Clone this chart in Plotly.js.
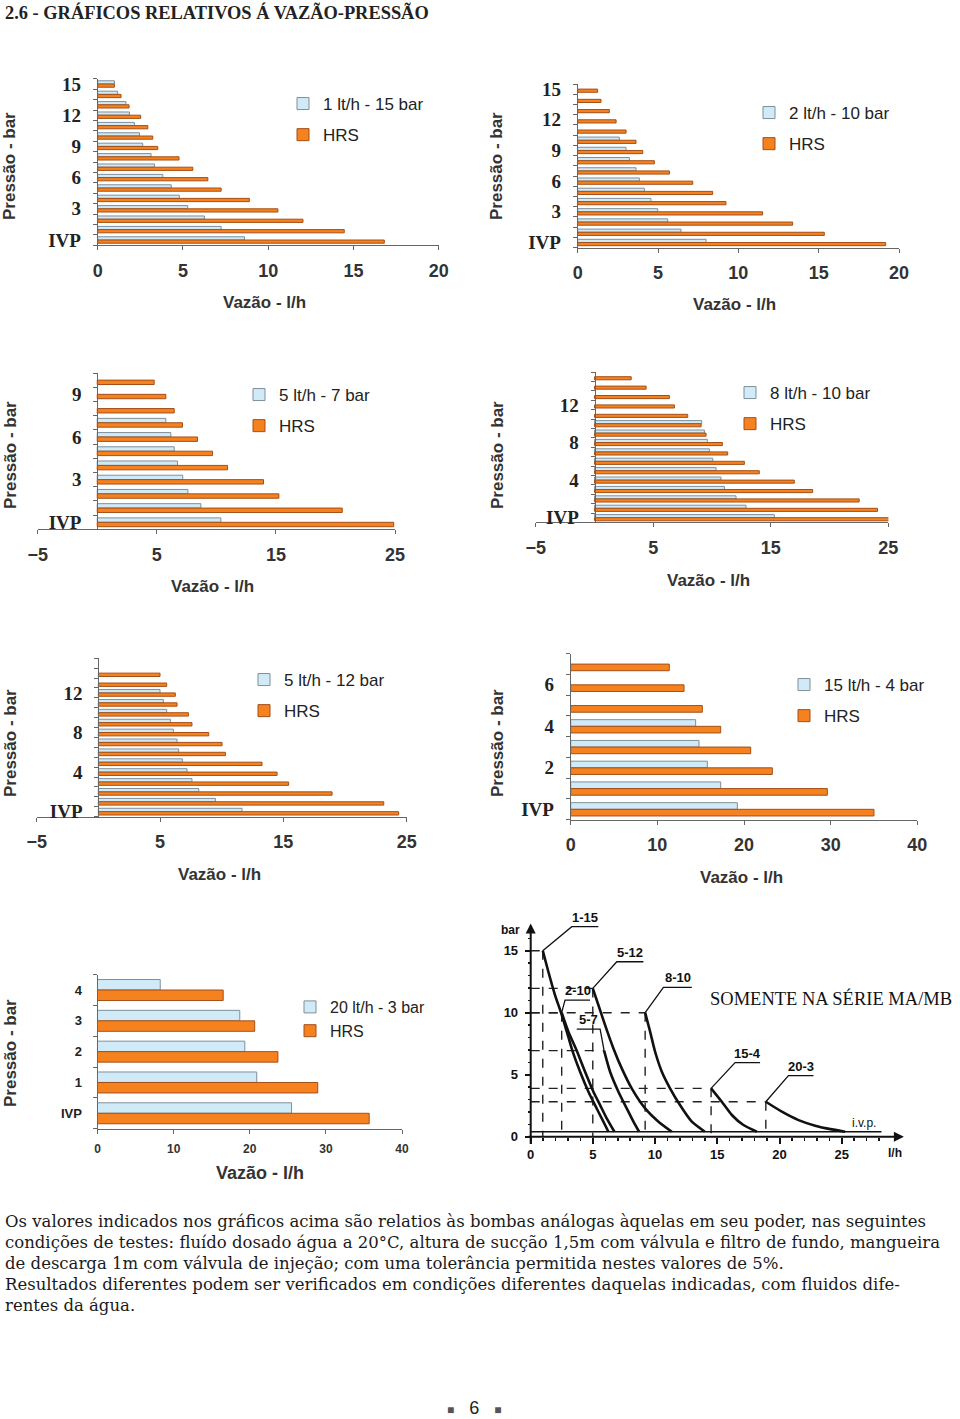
<!DOCTYPE html>
<html><head><meta charset="utf-8">
<script src="https://cdn.plot.ly/plotly-3.0.1.min.js"></script>
<style>html,body{margin:0;padding:0;background:#fff}#chart{width:960px;height:1419px}</style>
</head><body><div id="chart"></div>
<script>
const W = 960, H = 1419;

// ---------------- DATA ----------------
// Panel 1
const p1Name = '1 lt/h - 15 bar';
const p1Pressure = [0,1,2,3,4,5,6,7,8,9,10,11,12,13,14,15];
const p1Flow = [8.61,7.24,6.26,5.28,4.79,4.31,3.82,3.33,3.13,2.64,2.45,2.15,1.86,1.66,1.17,0.98];
const p1Hrs  = [16.81,14.46,12.04,10.57,8.90,7.24,6.46,5.58,4.77,3.52,3.23,2.94,2.52,1.84,1.37,0.98];
const p1TickVals = [0,3,6,9,12,15];
const p1TickText = ['IVP','3','6','9','12','15'];
const p1XTicks = [0,5,10,15,20];

// Panel 2
const p2Name = '2 lt/h - 10 bar';
const p2Pressure = [0,1,2,3,4,5,6,7,8,9,10,11,12,13,14,15];
const p2Flow = [7.99,6.43,5.60,4.98,4.56,4.15,3.84,3.63,3.22,3.01,2.59,null,null,null,null,null];
const p2Hrs  = [19.17,15.35,13.38,11.51,9.23,8.40,7.16,5.71,4.77,4.05,3.63,3.01,2.39,1.97,1.45,1.24];
const p2TickVals = [0,3,6,9,12,15];
const p2TickText = ['IVP','3','6','9','12','15'];
const p2XTicks = [0,5,10,15,20];

// Panel 3
const p3Name = '5 lt/h - 7 bar';
const p3Pressure = [0,1,2,3,4,5,6,7,8,9,10];
const p3Flow = [10.38,8.70,7.61,7.18,6.74,6.46,6.18,5.76,null,null,null];
const p3Hrs  = [24.89,20.57,15.25,13.96,10.94,9.68,8.42,7.16,6.46,5.76,4.78];
const p3TickVals = [0,3,6,9];
const p3TickText = ['IVP','3','6','9'];
const p3XTicks = [-5,5,15,25];

// Panel 4
const p4Name = '8 lt/h - 10 bar';
const p4Pressure = [0,1,2,3,4,5,6,7,8,9,10,11,12,13,14,15];
const p4Flow = [15.30,12.89,12.04,11.05,10.76,10.34,10.06,9.77,9.60,9.35,9.12,null,null,null,null,null];
const p4Hrs  = [25.07,24.08,22.52,18.56,17.00,14.02,12.75,11.33,10.88,9.49,9.07,7.93,6.80,6.37,4.39,3.12];
const p4TickVals = [0,4,8,12];
const p4TickText = ['IVP','4','8','12'];
const p4XTicks = [-5,5,15,25];

// Panel 5
const p5Name = '5 lt/h - 12 bar';
const p5Pressure = [0,1,2,3,4,5,6,7,8,9,10,11,12,13,14,15];
const p5Flow = [11.65,9.49,8.14,7.59,7.19,6.81,6.51,6.38,6.08,5.84,5.54,5.27,5.00,null,null,null];
const p5Hrs  = [24.35,23.14,18.95,15.43,14.49,13.27,10.30,10.03,8.95,7.59,7.30,6.38,6.24,5.54,5.00,null];
const p5TickVals = [0,4,8,12];
const p5TickText = ['IVP','4','8','12'];
const p5XTicks = [-5,5,15,25];

// Panel 6
const p6Name = '15 lt/h - 4 bar';
const p6Pressure = [0,1,2,3,4,5,6,7];
const p6Flow = [19.23,17.31,15.77,14.81,14.42,null,null,null];
const p6Hrs  = [35.00,29.62,23.27,20.77,17.31,15.19,13.08,11.38];
const p6TickVals = [0,2,4,6];
const p6TickText = ['IVP','2','4','6'];
const p6XTicks = [0,10,20,30,40];

// Panel 7
const p7Name = '20 lt/h - 3 bar';
const p7Pressure = [0,1,2,3,4];
const p7Flow = [25.49,20.92,19.35,18.69,8.24];
const p7Hrs  = [35.69,28.93,23.70,20.65,16.51];
const p7TickVals = [0,1,2,3,4];
const p7TickText = ['IVP','1','2','3','4'];
const p7XTicks = [0,10,20,30,40];

// Curve chart (l/h vs bar)
const c115X = [0.97,1.42,1.96,2.44,2.90,3.35,3.97,4.64,5.17,5.71,6.25];
const c115Y = [15,13.3,11.4,10.0,8.47,6.94,5.24,3.63,2.55,1.48,0.4];
const c210X = [2.49,3.03,3.70,4.37,5.04,5.58,6.11,6.73];
const c210Y = [10.0,8.47,6.94,5.24,3.63,2.55,1.48,0.4];
const c57X  = [5.90,6.38,7.05,7.72,8.26,8.71];
const c57Y  = [6.94,5.24,3.63,2.28,1.21,0.4];
const c512X = [4.99,5.44,5.98,6.65,7.32,8.12,9.20,10.27,11.34];
const c512Y = [11.96,10.62,9.0,7.12,5.51,3.9,2.28,1.21,0.4];
const c810X = [9.2,9.6,10.0,10.54,11.2,12.0,12.95,14.0];
const c810Y = [10.0,8.47,6.85,5.24,3.9,2.55,1.21,0.4];
const c154X = [14.5,15.36,16.17,17.1,18.18];
const c154Y = [3.9,2.82,1.75,0.94,0.4];
const c203X = [18.9,20.19,21.53,22.87,24.2,25.28];
const c203Y = [2.82,2.02,1.34,0.89,0.59,0.4];
const ivpX = [0,28.2];
const ivpY = [0.4,0.4];
const curveXTicks = [0,5,10,15,20,25];
const curveYTicks = [0,5,10,15];

// ---------------- STYLE / LAYOUT ----------------
const ORANGE = '#f5821f', ORANGE_EDGE = '#a44f18', BLUE = '#d1eaf8', BLUE_EDGE = '#7f8f9a';
const AX = '#666';

// plot boxes in px: [left, right, top, bottom]
const panels = [
  {name:p1Name, p:p1Pressure, f:p1Flow, h:p1Hrs, tv:p1TickVals, tt:p1TickText, xt:p1XTicks, xr:[0,20], box:[97.7,438.7,78.8,245.2], w:0.31, leg:[283,86], yt:[10,166], xtitle:[264,302]},
  {name:p2Name, p:p2Pressure, f:p2Flow, h:p2Hrs, tv:p2TickVals, tt:p2TickText, xt:p2XTicks, xr:[0,20], box:[577.7,899,84,247.6], w:0.31, leg:[749,95], yt:[497,166], xtitle:[734,304]},
  {name:p3Name, p:p3Pressure, f:p3Flow, h:p3Hrs, tv:p3TickVals, tt:p3TickText, xt:p3XTicks, xr:[-5,25], box:[37.7,395,373,529.4], w:0.31, leg:[239,377], yt:[10,455], xtitle:[212,586]},
  {name:p4Name, p:p4Pressure, f:p4Flow, h:p4Hrs, tv:p4TickVals, tt:p4TickText, xt:p4XTicks, xr:[-5,25], box:[535.8,888.3,372,522.4], w:0.33, leg:[730,375], yt:[497,455], xtitle:[708,580]},
  {name:p5Name, p:p5Pressure, f:p5Flow, h:p5Hrs, tv:p5TickVals, tt:p5TickText, xt:p5XTicks, xr:[-5,25], box:[36.7,406.7,658.3,816.6], w:0.34, leg:[244,662], yt:[10,743], xtitle:[219,874]},
  {name:p6Name, p:p6Pressure, f:p6Flow, h:p6Hrs, tv:p6TickVals, tt:p6TickText, xt:p6XTicks, xr:[0,40], box:[570.7,917.3,653.7,819.7], w:0.32, leg:[784,667], yt:[497,743], xtitle:[741,877]},
  {name:p7Name, p:p7Pressure, f:p7Flow, h:p7Hrs, tv:p7TickVals, tt:p7TickText, xt:p7XTicks, xr:[0,40], box:[97.5,402,974.6,1128.7], w:0.34, leg:[290,990], yt:[10,1053], xtitle:[260,1173], small:true}
];

const traces = [];
const layout = {
  width: W, height: H, margin:{l:0,r:0,t:0,b:0},
  paper_bgcolor:'#fff', plot_bgcolor:'rgba(0,0,0,0)',
  barmode:'overlay', showlegend:true, annotations:[], shapes:[],
  font:{family:'Liberation Sans', color:'#222'}
};

panels.forEach((P, i) => {
  const k = i + 1;
  const xs = k === 1 ? 'x' : 'x' + k, ys = k === 1 ? 'y' : 'y' + k;
  const lg = k === 1 ? 'legend' : 'legend' + k;
  const [l, r, t, b] = P.box;
  const xd = [l / W, r / W], yd = [1 - b / H, 1 - t / H];
  traces.push({type:'bar', orientation:'h', x:P.f, y:P.p, name:P.name, xaxis:xs, yaxis:ys,
    width:P.w, offset:0, marker:{color:BLUE, line:{color:BLUE_EDGE, width:1}},
    legend:lg, legendgroup:'b'+k, hoverinfo:'skip'});
  traces.push({type:'bar', orientation:'h', x:P.h, y:P.p, name:'HRS', xaxis:xs, yaxis:ys,
    width:P.w, offset:-P.w, marker:{color:ORANGE, line:{color:ORANGE_EDGE, width:1}},
    legend:lg, legendgroup:'h'+k, hoverinfo:'skip'});
  const n = P.p.length;
  const tickFontX = P.small ? {family:'Liberation Sans', size:12, weight:'bold', color:'#333'}
                            : {family:'Liberation Sans', size:18, weight:'bold', color:'#333'};
  const tickFontY = P.small ? {family:'Liberation Sans', size:13, weight:'bold', color:'#222'}
                            : {family:'Liberation Serif', size:19, weight:'bold', color:'#222'};
  layout[k === 1 ? 'xaxis' : 'xaxis' + k] = {
    domain:xd, range:P.xr, anchor:ys, showline:true, linecolor:AX, linewidth:1,
    ticks:'outside', ticklen:4, tickcolor:AX, tickmode:'array', tickvals:P.xt,
    tickfont:tickFontX, ticklabelstandoff:5, showgrid:false, zeroline:false, fixedrange:true
  };
  const ya = {
    domain:yd, range:[-0.5, n - 0.5], showline:true, linecolor:AX, linewidth:1,
    ticks:'', tickmode:'array', tickvals:P.tv, ticktext:P.tt, tickfont:tickFontY,
    ticklabelstandoff: 12,
    minor:{tick0:0.5, dtick:1, ticks:'outside', ticklen:4, tickcolor:AX},
    showgrid:false, zeroline:false, fixedrange:true
  };
  if (P.xr[0] < 0) {
    ya.anchor = 'free';
    ya.position = xd[0] + (0 - P.xr[0]) / (P.xr[1] - P.xr[0]) * (xd[1] - xd[0]);
  } else {
    ya.anchor = xs;
  }
  layout[k === 1 ? 'yaxis' : 'yaxis' + k] = ya;
  layout[lg] = {
    x:P.leg[0] / W, y:1 - P.leg[1] / H, xanchor:'left', yanchor:'top',
    bgcolor:'rgba(0,0,0,0)', borderwidth:0,
    font:{family:'Liberation Sans', size:P.small ? 16 : 17, color:'#222'},
    traceorder:'grouped', tracegroupgap:P.small ? 0 : 6
  };
  // axis titles
  layout.annotations.push({xref:'paper', yref:'paper', x:P.yt[0] / W, y:1 - P.yt[1] / H,
    text:'Pressão - bar', textangle:-90, showarrow:false, xanchor:'center', yanchor:'middle',
    font:{family:'Liberation Sans', size:17, weight:'bold', color:'#333'}});
  layout.annotations.push({xref:'paper', yref:'paper', x:P.xtitle[0] / W, y:1 - P.xtitle[1] / H,
    text:'Vazão - l/h', showarrow:false, xanchor:'center', yanchor:'middle',
    font:{family:'Liberation Sans', size:P.small ? 18 : 17, weight:'bold', color:'#333'}});
});

// ---------------- CURVE CHART ----------------
const cxr = [-2.5, 30.5], cyr = [-1.6, 18.2];
const cBox = [530.7 + cxr[0] * 12.44, 530.7 + cxr[1] * 12.44, 1136.7 - cyr[1] * 12.4, 1136.7 - cyr[0] * 12.4];
const cxd = [cBox[0] / W, cBox[1] / W], cyd = [1 - cBox[3] / H, 1 - cBox[2] / H];
const zeroX = cxd[0] + (0 - cxr[0]) / (cxr[1] - cxr[0]) * (cxd[1] - cxd[0]);
const zeroY = cyd[0] + (0 - cyr[0]) / (cyr[1] - cyr[0]) * (cyd[1] - cyd[0]);
const tickFontC = {family:'Liberation Sans', size:13, weight:'bold', color:'#111'};
const minorX = []; for (let v = 1; v <= 28; v++) if (v % 5) minorX.push(v);
const minorY = []; for (let v = 1; v <= 16; v++) if (v % 5) minorY.push(v);
layout.xaxis8 = {domain:cxd, range:cxr, anchor:'free', position:zeroY, showline:false, zeroline:false, showgrid:false,
  ticks:'outside', ticklen:6, tickwidth:2, tickcolor:'#111', tickmode:'array', tickvals:curveXTicks,
  minor:{tickmode:'array', tickvals:minorX, ticks:'outside', ticklen:3, tickwidth:1.5, tickcolor:'#111'},
  tickfont:tickFontC, ticklabelstandoff:0, fixedrange:true};
layout.yaxis8 = {domain:cyd, range:cyr, anchor:'free', position:zeroX, showline:false, zeroline:false, showgrid:false,
  ticks:'outside', ticklen:6, tickwidth:2, tickcolor:'#111', tickmode:'array', tickvals:curveYTicks,
  minor:{tickmode:'array', tickvals:minorY, ticks:'outside', ticklen:3, tickwidth:1.5, tickcolor:'#111'},
  tickfont:tickFontC, ticklabelstandoff:4, fixedrange:true};

const curves = [
  {name:'1-15', x:c115X, y:c115Y, u:[3.30,5.44,16.94], side:'l', vert:true},
  {name:'2-10', x:c210X, y:c210Y, u:[2.76,4.77,11.02], side:'l', vert:true},
  {name:'5-7',  x:c57X,  y:c57Y,  u:[3.70,5.58,8.68],  side:'r', vert:false},
  {name:'5-12', x:c512X, y:c512Y, u:[6.92,9.06,14.11], side:'l', vert:true},
  {name:'8-10', x:c810X, y:c810Y, u:[10.67,12.95,12.04], side:'l', vert:true},
  {name:'15-4', x:c154X, y:c154Y, u:[16.43,18.44,5.97], side:'l', vert:true},
  {name:'20-3', x:c203X, y:c203Y, u:[20.72,22.73,4.92], side:'l', vert:true}
];
const dashStyle = {color:'#222', width:1.4, dash:'dash'};
curves.forEach(c => {
  traces.push({type:'scatter', mode:'lines', x:c.x, y:c.y, xaxis:'x8', yaxis:'y8', showlegend:false,
    line:{color:'#111', width:2.6, shape:'spline', smoothing:0.6}, hoverinfo:'skip'});
  const sx = c.x[0], sy = c.y[0];
  layout.shapes.push({type:'line', xref:'x8', yref:'y8', x0:0, x1:sx, y0:sy, y1:sy, line:dashStyle, layer:'below'});
  if (c.vert) layout.shapes.push({type:'line', xref:'x8', yref:'y8', x0:sx, x1:sx, y0:sy, y1:0, line:dashStyle, layer:'below'});
  const [u0, u1, uy] = c.u;
  const near = c.side === 'l' ? u0 : u1, far = c.side === 'l' ? u1 : u0;
  layout.shapes.push({type:'path', xref:'x8', yref:'y8',
    path:`M${sx},${sy} L${near},${uy} L${far},${uy}`, line:{color:'#111', width:1.3}});
  layout.annotations.push({xref:'x8', yref:'y8', x:(u0 + u1) / 2, y:uy, yanchor:'bottom', xanchor:'center',
    yshift:0, text:c.name, showarrow:false, font:{family:'Liberation Sans', size:13, weight:'bold', color:'#111'}});
});
traces.push({type:'scatter', mode:'lines', x:ivpX, y:ivpY, xaxis:'x8', yaxis:'y8', showlegend:false,
  line:{color:'#111', width:1.6}, hoverinfo:'skip'});
// axes with arrows
layout.annotations.push({xref:'x8', yref:'y8', axref:'x8', ayref:'y8', x:30, y:0, ax:-0.3, ay:0, text:'',
  showarrow:true, arrowhead:2, arrowsize:1, arrowwidth:2, arrowcolor:'#111'});
layout.annotations.push({xref:'x8', yref:'y8', axref:'x8', ayref:'y8', x:0, y:17.2, ax:0, ay:-0.7, text:'',
  showarrow:true, arrowhead:2, arrowsize:1, arrowwidth:2, arrowcolor:'#111'});
layout.annotations.push({xref:'x8', yref:'y8', x:-1.6, y:16.7, text:'bar', showarrow:false,
  font:{family:'Liberation Sans', size:12, weight:'bold', color:'#111'}});
layout.annotations.push({xref:'x8', yref:'y8', x:29.3, y:-1.3, text:'l/h', showarrow:false,
  font:{family:'Liberation Sans', size:12, weight:'bold', color:'#111'}});
layout.annotations.push({xref:'x8', yref:'y8', x:26.8, y:1.1, text:'i.v.p.', showarrow:false,
  font:{family:'Liberation Sans', size:12, color:'#111'}});

// ---------------- PAGE TEXT ----------------
const pageText = [
  {t:'2.6 - GRÁFICOS RELATIVOS Á VAZÃO-PRESSÃO', x:3, y:13, f:{family:'Liberation Serif', size:18.4, weight:'bold', color:'#222'}},
  {t:'SOMENTE NA SÉRIE MA/MB', x:708, y:998, f:{family:'Liberation Serif', size:18.5, color:'#111'}}
];
const paragraph = [
  'Os valores indicados nos gráficos acima são relatios às bombas análogas àquelas em seu poder, nas seguintes',
  'condições de testes: fluído dosado água a 20°C, altura de sucção 1,5m com válvula e filtro de fundo, mangueira',
  'de descarga 1m com válvula de injeção; com uma tolerância permitida nestes valores de 5%.',
  'Resultados diferentes podem ser verificados em condições diferentes daquelas indicadas, com fluidos dife-',
  'rentes da água.'
];
pageText.forEach(p => layout.annotations.push({xref:'paper', yref:'paper', x:p.x / W, y:1 - p.y / H,
  xanchor:'left', yanchor:'middle', text:p.t, showarrow:false, font:p.f}));
paragraph.forEach((line, i) => layout.annotations.push({xref:'paper', yref:'paper', x:3 / W, y:1 - (1221 + i * 21) / H,
  xanchor:'left', yanchor:'middle', text:line, showarrow:false,
  font:{family:'DejaVu Serif', size:16.5, color:'#1a1a1a'}}));
layout.annotations.push({xref:'paper', yref:'paper', x:474 / W, y:1 - 1408 / H, xanchor:'center', yanchor:'middle',
  text:'<span style="font-size:12px;color:#555">■</span>   6   <span style="font-size:12px;color:#555">■</span>',
  showarrow:false, font:{family:'Liberation Sans', size:18, color:'#222'}});

Plotly.newPlot('chart', traces, layout, {displayModeBar:false, staticPlot:true});
</script></body></html>
